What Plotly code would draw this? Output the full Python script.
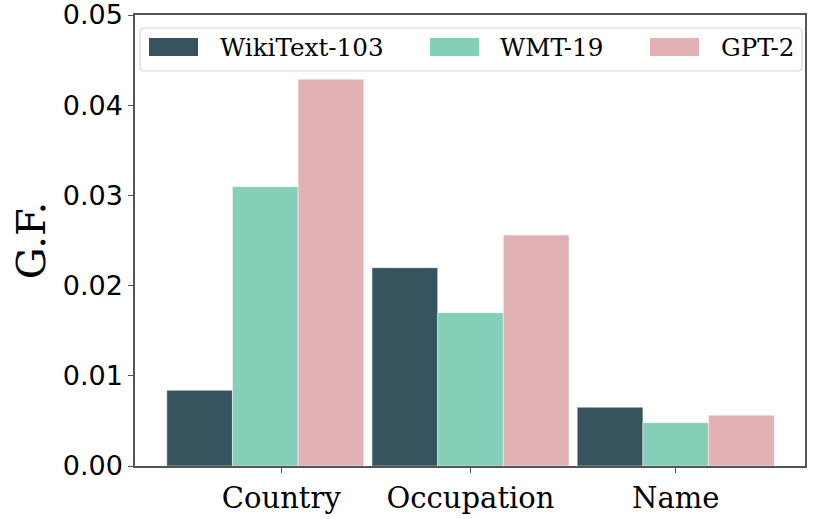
import plotly.graph_objects as go

categories = ["Country", "Occupation", "Name"]
series_names = ["WikiText-103", "WMT-19", "GPT-2"]
wikitext_103 = [0.00839, 0.02198, 0.00651]
wmt_19 = [0.03097, 0.01700, 0.00480]
gpt_2 = [0.04287, 0.02561, 0.00562]
y_ticks = [0.00, 0.01, 0.02, 0.03, 0.04, 0.05]

series_values = [wikitext_103, wmt_19, gpt_2]
colors = ["#37535E", "#85CFB9", "#E2B1B4"]

# category positions (numeric axis), tick positions as drawn in the reference
x_pos = list(range(len(categories)))
tick_pos = [0.078, 1.0, 2.0]

fig = go.Figure()
for name, vals, col in zip(series_names, series_values, colors):
    fig.add_trace(go.Bar(
        x=x_pos, y=vals, name=name,
        marker=dict(color=col, line=dict(color="rgba(255,255,255,0.45)", width=1)),
        showlegend=False,
    ))

W, H = 830, 519
L, R, T, B = 135, 25, 15, 53
pw, ph = W - L - R, H - T - B

def px_x(x):
    return (x - L) / pw

def px_y(y):
    return (H - B - y) / ph

# legend frame (rounded rectangle) in paper coordinates
x0, x1, y0, y1, r = 140, 802, 28, 71, 4
rx, ry = r / pw, r / ph
X0, X1, Y0, Y1 = px_x(x0), px_x(x1), px_y(y1), px_y(y0)
path = (f"M{X0+rx},{Y0} L{X1-rx},{Y0} Q{X1},{Y0} {X1},{Y0+ry} "
        f"L{X1},{Y1-ry} Q{X1},{Y1} {X1-rx},{Y1} L{X0+rx},{Y1} "
        f"Q{X0},{Y1} {X0},{Y1-ry} L{X0},{Y0+ry} Q{X0},{Y0} {X0+rx},{Y0} Z")
shapes = [dict(type="path", path=path, xref="paper", yref="paper",
               line=dict(color="#D5D5D5", width=1.2), fillcolor="rgba(255,255,255,0.8)",
               layer="above")]
annotations = []
swatch_x = [149, 430, 650]
text_x = [218, 498, 719]
for sx, tx, name, col in zip(swatch_x, text_x, series_names, colors):
    shapes.append(dict(type="rect", xref="paper", yref="paper",
                       x0=px_x(sx), x1=px_x(sx + 49), y0=px_y(56), y1=px_y(38),
                       fillcolor=col, line=dict(width=0), layer="above"))
    annotations.append(dict(x=px_x(tx), y=px_y(47.5), xref="paper", yref="paper",
                            text=name, showarrow=False, xanchor="left", yanchor="middle",
                            font=dict(family="DejaVu Serif", size=24.6, color="black")))

axis_col = "#555555"
fig.update_layout(
    width=W, height=H,
    margin=dict(l=L, r=R, t=T, b=B, pad=0, autoexpand=False),
    paper_bgcolor="white", plot_bgcolor="white",
    barmode="group", bargap=0.04, bargroupgap=0,
    shapes=shapes, annotations=annotations,
    xaxis=dict(range=[-0.635, 2.63], tickmode="array", tickvals=tick_pos, ticktext=categories,
               automargin=False,
               showgrid=False, zeroline=False, showline=True, linecolor=axis_col, linewidth=1.5,
               mirror=True, ticks="outside", ticklen=5, tickcolor=axis_col, tickwidth=1.2,
               tickfont=dict(family="DejaVu Serif", size=29, color="black")),
    yaxis=dict(range=[0, 0.05], tickmode="array", tickvals=y_ticks, tickformat=".2f",
               automargin=False, ticklabeloverflow="allow",
               showgrid=False, zeroline=False, showline=True, linecolor=axis_col, linewidth=1.5,
               mirror=True, ticks="outside", ticklen=5, tickcolor=axis_col, tickwidth=1.2,
               tickfont=dict(family="DejaVu Sans", size=27, color="black"),
               title=dict(text="G.F.", font=dict(family="DejaVu Serif", size=40, color="black"),
                          standoff=5)),
)

fig.write_html("out.html", config={"displayModeBar": False},
               post_script="document.body.style.margin='0';document.body.style.overflow='hidden';")
